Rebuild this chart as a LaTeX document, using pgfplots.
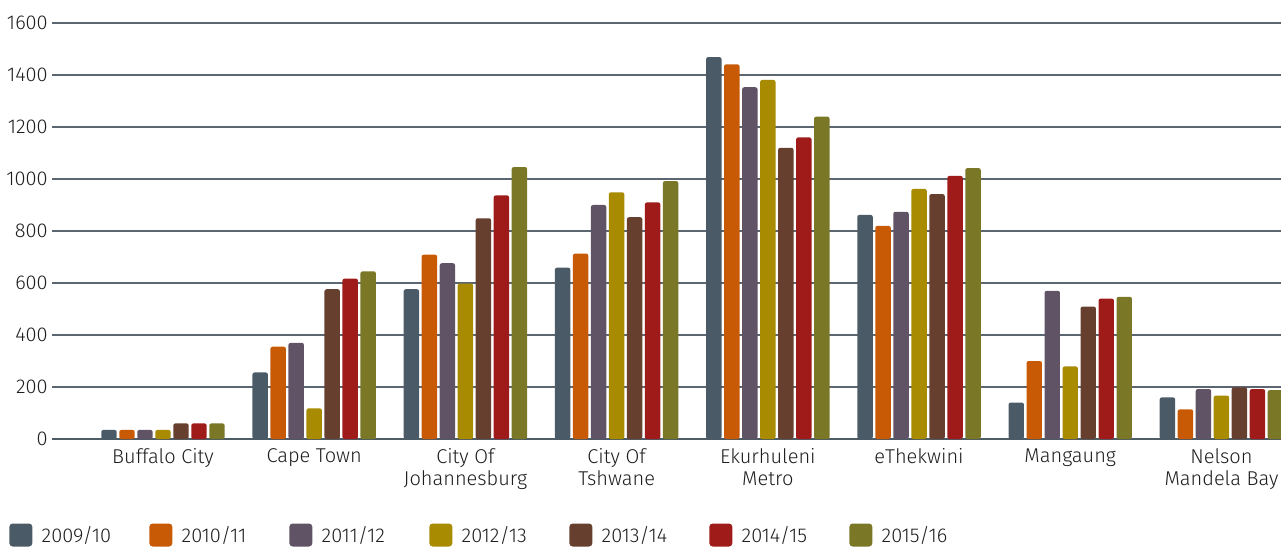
\documentclass[border=0pt]{standalone}
\usepackage{fontspec}
\setmainfont{Fira Sans Light}
\usepackage{pgfplots}
\pgfplotsset{compat=1.18}

\definecolor{c0}{HTML}{4A5A66}
\definecolor{c1}{HTML}{C85A06}
\definecolor{c2}{HTML}{615366}
\definecolor{c3}{HTML}{A88B00}
\definecolor{c4}{HTML}{673F2E}
\definecolor{c5}{HTML}{9E1B19}
\definecolor{c6}{HTML}{7A7726}
\definecolor{gridc}{HTML}{5C6670}
\definecolor{basec}{HTML}{4E5C66}
\definecolor{txt}{HTML}{1E1E1E}

% x = category index, one column per year
\pgfplotstableread{
x y0 y1 y2 y3 y4 y5 y6
0 35 35 35 35 60 60 60
1 256 355 370 118 576 617 645
2 576 709 676 598 849 937 1046
3 659 713 900 949 853 910 992
4 1469 1441 1353 1381 1120 1160 1240
5 862 820 874 962 942 1012 1042
6 140 300 570 279 509 540 547
7 160 114 192 167 199 192 188
}\data

\begin{document}
\fontsize{15pt}{16.5pt}\selectfont
\begin{tikzpicture}
\useasboundingbox (-39pt,-80.25pt) rectangle (921.75pt,329.25pt);
\begin{axis}[
at={(0pt,0pt)}, anchor=south west,
width=921.75pt, height=312pt,
scale only axis,
ybar=1.9pt,
bar width=11.6pt,
xmin=-0.734, xmax=7.394,
ymin=0, ymax=1600,
ytick={0,200,...,1600},
xtick={0,...,7},
xticklabels={Buffalo City, Cape Town, City Of\\Johannesburg, City Of\\Tshwane, Ekurhuleni\\Metro, eThekwini, Mangaung, Nelson\\Mandela Bay},
axis lines*=left,
y axis line style={draw=none},
x axis line style={line width=2pt, basec},
major tick length=0pt,
tick style={draw=none},
ymajorgrids,
y grid style={gridc, line width=0.9pt},
/pgf/number format/assume math mode=true,
/pgf/number format/1000 sep={},
yticklabel style={anchor=east, inner sep=0pt, xshift=-3pt, text=txt},
xticklabel style={anchor=north, inner sep=0pt, yshift=-7pt, align=center, text=txt},
every axis plot/.append style={draw=none, rounded corners=1.6pt},
legend columns=7,
legend style={at={(rel axis cs:-0.0347,-0.2308)}, anchor=west, draw=none, fill=none,
  inner sep=0pt, outer sep=0pt, row sep=0pt, text=txt,
  nodes={inner sep=0pt},
  /tikz/every odd column/.append style={column sep=7pt}},
legend image code/.code={\fill[#1, rounded corners=2.5pt] (0pt,-7.6pt) rectangle (17.25pt,9.65pt);},
]
\addplot [fill=c0] table [x=x, y=y0] {\data};
\addplot [fill=c1] table [x=x, y=y1] {\data};
\addplot [fill=c2] table [x=x, y=y2] {\data};
\addplot [fill=c3] table [x=x, y=y3] {\data};
\addplot [fill=c4] table [x=x, y=y4] {\data};
\addplot [fill=c5] table [x=x, y=y5] {\data};
\addplot [fill=c6] table [x=x, y=y6] {\data};
\legend{\makebox[80.75pt][l]{2009/10}, \makebox[80.75pt][l]{2010/11}, \makebox[80.75pt][l]{2011/12}, \makebox[80.75pt][l]{2012/13}, \makebox[80.75pt][l]{2013/14}, \makebox[80.75pt][l]{2014/15}, \makebox[80.75pt][l]{2015/16}}
\end{axis}
\end{tikzpicture}
\end{document}
